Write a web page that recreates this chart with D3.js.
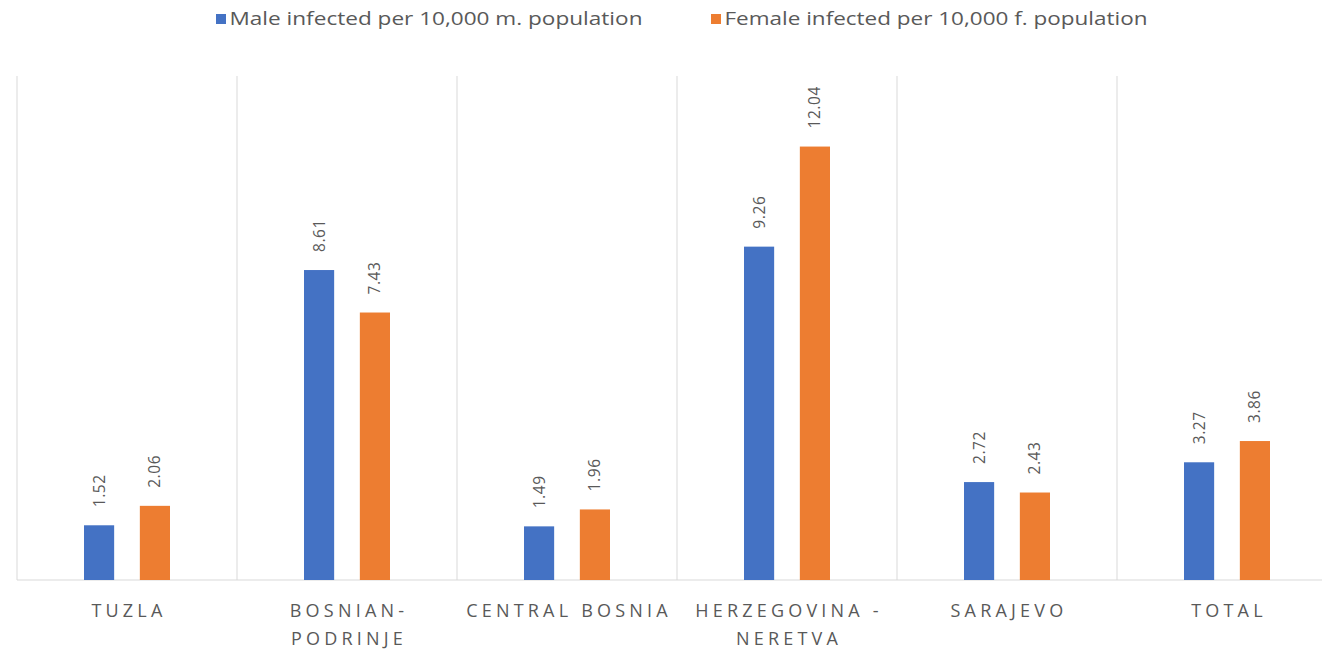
<!DOCTYPE html>
<html>
<head>
<meta charset="utf-8">
<script src="https://cdn.jsdelivr.net/npm/d3@7"></script>
<style>
  html, body { margin: 0; padding: 0; background: #ffffff; }
  svg { display: block; font-family: "Open Sans", "Liberation Sans", sans-serif; }
</style>
</head>
<body>
<svg id="chart" width="1322" height="650"></svg>
<script>
// Regions (category labels may wrap onto two lines)
const regions = [
  ["TUZLA"],
  ["BOSNIAN-", "PODRINJE"],
  ["CENTRAL BOSNIA"],
  ["HERZEGOVINA -", "NERETVA"],
  ["SARAJEVO"],
  ["TOTAL"]
];
const regionKeys = regions.map(r => r.join(" "));

// Infected per 10,000 population, by sex
const maleValues   = [1.52, 8.61, 1.49, 9.26, 2.72, 3.27];
const femaleValues = [2.06, 7.43, 1.96, 12.04, 2.43, 3.86];

const seriesNames = [
  "Male infected per 10,000 m. population",
  "Female infected per 10,000 f. population"
];
const seriesColors = ["#4472C4", "#ED7D31"];

const svg = d3.select("#chart");

const plot = { left: 17, right: 1337, top: 76, bottom: 580 };

const x = d3.scaleBand()
  .domain(regionKeys)
  .range([plot.left, plot.right])
  .paddingInner(0)
  .paddingOuter(0);

const inner = d3.scaleBand()
  .domain([0, 1])
  .range([67, x.bandwidth() - 67])
  .paddingInner(0.46);

const y = d3.scaleLinear()
  .domain([0, 14])
  .range([plot.bottom, plot.top]);

// vertical separators between categories
const edges = regionKeys.map(k => x(k)).concat([plot.right]);
svg.append("g")
  .selectAll("line")
  .data(edges)
  .join("line")
  .attr("x1", d => d).attr("x2", d => d)
  .attr("y1", plot.top).attr("y2", plot.bottom)
  .attr("stroke", "#d9d9d9")
  .attr("stroke-width", 1);

// baseline
svg.append("line")
  .attr("x1", plot.left).attr("x2", plot.right)
  .attr("y1", plot.bottom).attr("y2", plot.bottom)
  .attr("stroke", "#d9d9d9")
  .attr("stroke-width", 1);

const rows = regionKeys.map((k, i) => ({ key: k, vals: [maleValues[i], femaleValues[i]] }));

const groups = svg.append("g")
  .selectAll("g")
  .data(rows)
  .join("g")
  .attr("transform", d => `translate(${x(d.key)},0)`);

groups.selectAll("rect")
  .data(d => d.vals.map((v, s) => ({ v, s })))
  .join("rect")
  .attr("x", d => inner(d.s))
  .attr("width", inner.bandwidth())
  .attr("y", d => y(d.v))
  .attr("height", d => y(0) - y(d.v))
  .attr("fill", d => seriesColors[d.s]);

// rotated value labels above each bar
groups.selectAll("text.val")
  .data(d => d.vals.map((v, s) => ({ v, s })))
  .join("text")
  .attr("class", "val")
  .attr("transform", d => `translate(${inner(d.s) + inner.bandwidth() / 2 + 5.5},${y(d.v) - 18}) rotate(-90)`)
  .attr("text-anchor", "start")
  .attr("fill", "#595959")
  .attr("font-size", 15.5)
  .attr("letter-spacing", 0.6)
  .text(d => d.v.toFixed(2));

// category labels
const catLabels = svg.append("g")
  .selectAll("text")
  .data(regions)
  .join("text")
  .attr("x", (d, i) => x(regionKeys[i]) + x.bandwidth() / 2 + 2)
  .attr("y", 617)
  .attr("text-anchor", "middle")
  .attr("fill", "#595959")
  .attr("font-size", 18)
  .attr("letter-spacing", 4.2);

catLabels.selectAll("tspan")
  .data(d => d)
  .join("tspan")
  .attr("x", function () { return d3.select(this.parentNode).attr("x"); })
  .attr("dy", (d, i) => i === 0 ? 0 : 28)
  .text(d => d);

// legend
const legendItems = [
  { name: seriesNames[0], color: seriesColors[0], x: 216, w: 413 },
  { name: seriesNames[1], color: seriesColors[1], x: 711, w: 423 }
];
const legend = svg.append("g")
  .selectAll("g")
  .data(legendItems)
  .join("g")
  .attr("transform", d => `translate(${d.x},0)`);

legend.append("rect")
  .attr("x", 0).attr("y", 14)
  .attr("width", 10).attr("height", 10)
  .attr("fill", d => d.color);

legend.append("text")
  .attr("x", 13.5)
  .attr("y", 25)
  .attr("fill", "#595959")
  .attr("font-size", 18)
  .attr("textLength", d => d.w)
  .attr("lengthAdjust", "spacingAndGlyphs")
  .text(d => d.name);
</script>
</body>
</html>
